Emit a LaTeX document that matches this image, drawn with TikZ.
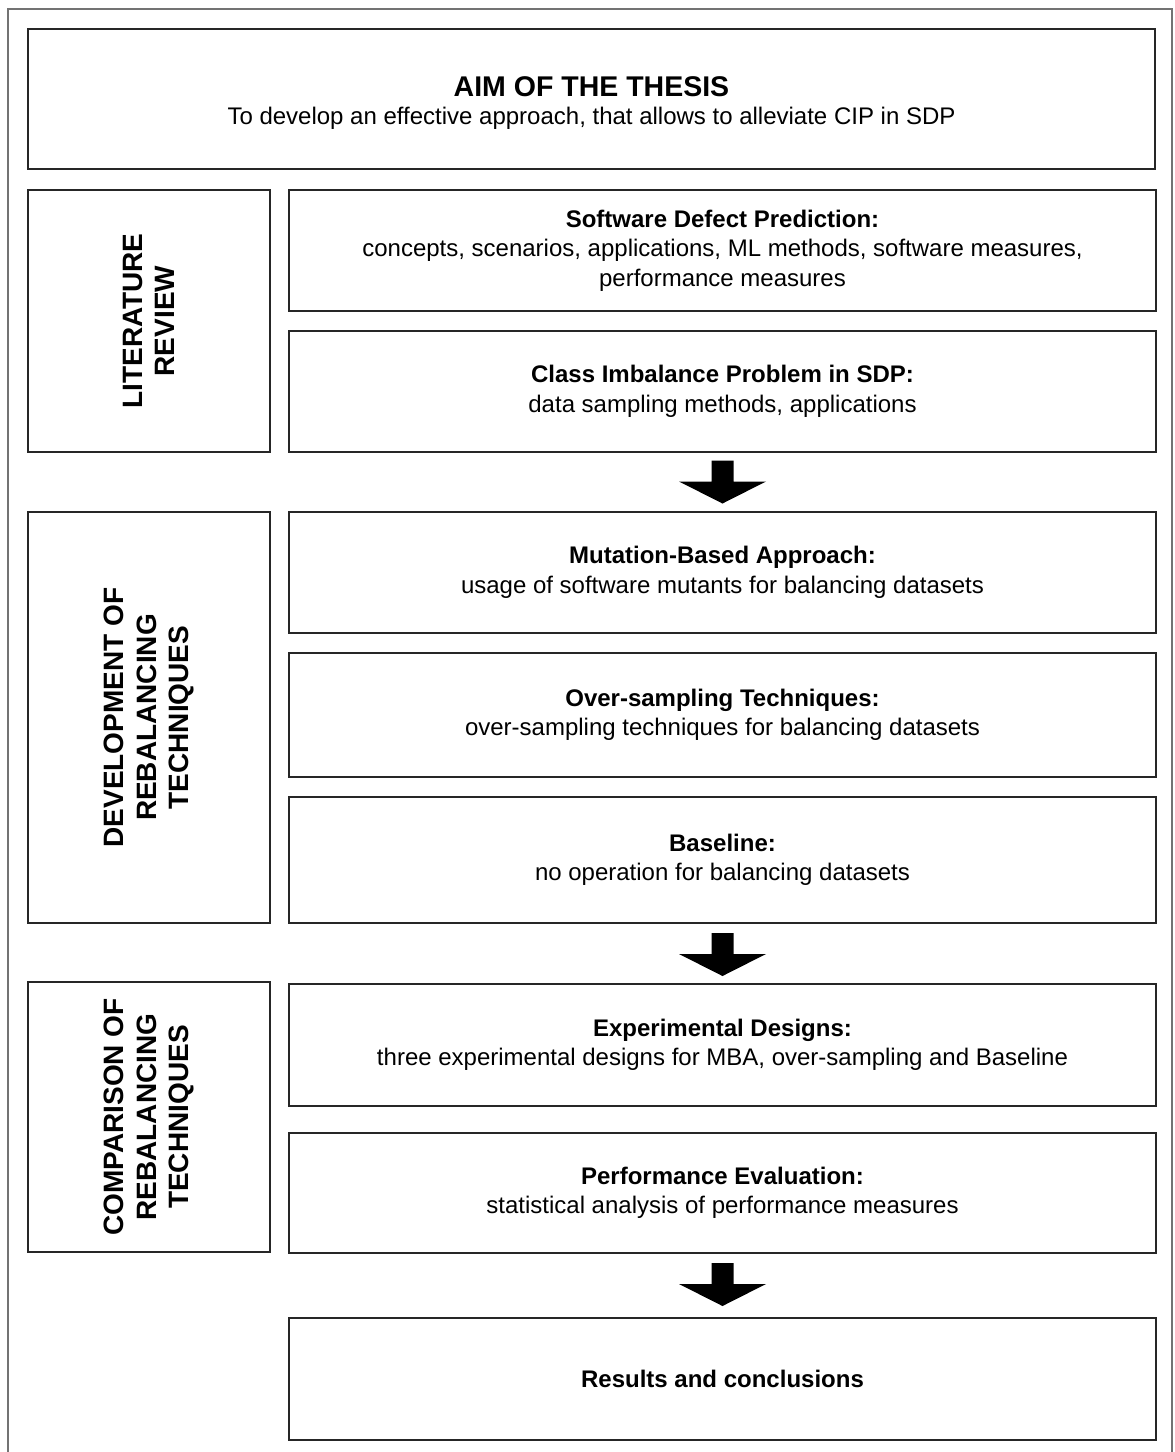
\documentclass[tikz,border=0pt]{standalone}
\usepackage{fontspec}
\setmainfont{Liberation Sans}
\usetikzlibrary{calc}
\begin{document}
\begin{tikzpicture}[x=1pt,y=-1pt,
  box/.style={draw=black!85, line width=1.8pt, rectangle, inner sep=0pt, align=center,
    font=\fontsize{24}{29.5}\selectfont, minimum width=867pt},
  side/.style={draw=black!85, line width=1.8pt, rectangle, inner sep=0pt, align=center,
    rotate=90, minimum height=242pt, font=\bfseries\fontsize{28}{32.5}\selectfont},
  downarrow/.pic={\fill[black] (-11,-21.5) -- (11,-21.5) -- (11,-0.5) -- (43.5,-0.5) -- (0,21.5) -- (-43.5,-0.5) -- (-11,-0.5) -- cycle;}
]
\useasboundingbox (0,0) rectangle (1175,1452);
% outer frame (open at the bottom)
\coordinate (fbl) at (8,1452);
\coordinate (ftl) at (8,9);
\coordinate (ftr) at (1172,9);
\coordinate (fbr) at (1172,1452);
\draw[black!55, line width=1.5pt] (fbl) -- (ftl) -- (ftr) -- (fbr);

% aim
\node[box, minimum width=1127pt, minimum height=140pt] (aim) at (591.5,99) {};
\node[font=\bfseries\fontsize{28.5}{31}\selectfont, inner sep=0pt] (aimtitle) at (591.5,87) {AIM OF THE THESIS};
\node[font=\fontsize{24}{29}\selectfont, inner sep=0pt] (aimtext) at (591.5,118) {To develop an effective approach, that allows to alleviate CIP in SDP};

% side boxes
\node[side, minimum width=262pt] (lit) at (149,321) {LITERATURE\\REVIEW};
\node[side, minimum width=411pt] (dev) at (149,717.5) {DEVELOPMENT OF\\REBALANCING\\TECHNIQUES};
\node[side, minimum width=270pt] (comp) at (149,1117) {COMPARISON OF\\REBALANCING\\TECHNIQUES};

% right boxes
\node[box, minimum height=121pt] (sdp) at (722.5,250.5) {\textbf{Software Defect Prediction:}\\concepts, scenarios, applications, ML methods, software measures,\\performance measures};
\node[box, minimum height=121pt] (cip) at (722.5,391.5) {\textbf{Class Imbalance Problem in SDP:}\\data sampling methods, applications};
\node[box, minimum height=121pt] (mba) at (722.5,572.5) {\textbf{Mutation-Based Approach:}\\usage of software mutants for balancing datasets};
\node[box, minimum height=124pt] (over) at (722.5,715) {\textbf{Over-sampling Techniques:}\\over-sampling techniques for balancing datasets};
\node[box, minimum height=126pt] (base) at (722.5,860) {\textbf{Baseline:}\\no operation for balancing datasets};
\node[box, minimum height=122pt] (exp) at (722.5,1045) {\textbf{Experimental Designs:}\\three experimental designs for MBA, over-sampling and Baseline};
\node[box, minimum height=120pt] (perf) at (722.5,1193) {\textbf{Performance Evaluation:}\\statistical analysis of performance measures};
\node[box, minimum height=122pt] (res) at (722.5,1379) {\textbf{Results and conclusions}};

% block arrows in the gaps
\coordinate (g1) at ($(cip.south)!0.5!(mba.north)$);
\coordinate (g2) at ($(base.south)!0.5!(exp.north)+(0,1)$);
\coordinate (g3) at ($(perf.south)!0.5!(res.north)+(0,-1)$);
\pic at (g1) {downarrow};
\pic at (g2) {downarrow};
\pic at (g3) {downarrow};
\end{tikzpicture}
\end{document}
